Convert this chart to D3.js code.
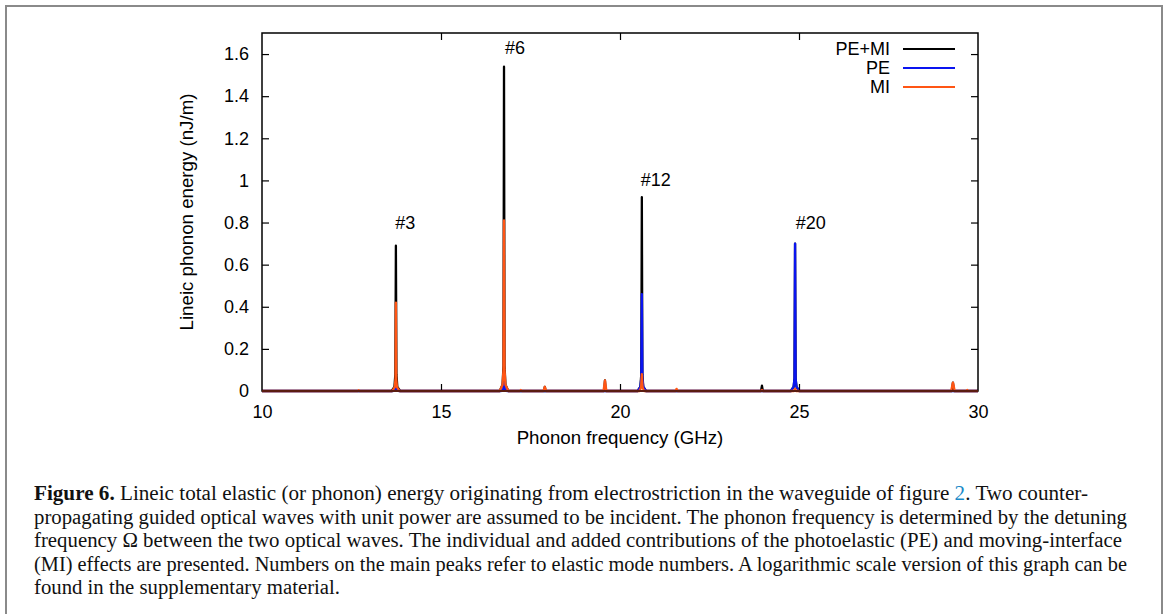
<!DOCTYPE html>
<html><head><meta charset="utf-8">
<script src="https://cdn.jsdelivr.net/npm/d3@7"></script>
<style>
html,body{margin:0;padding:0;background:#fff;}
svg{display:block;}
</style></head>
<body>
<svg id="chart" width="1168" height="614"></svg>
<script>
// ---- data ----
const xTicks = [10, 15, 20, 25, 30];
const yTicks = [0, 0.2, 0.4, 0.6, 0.8, 1, 1.2, 1.4, 1.6];
const yTickLabels = ["0", "0.2", "0.4", "0.6", "0.8", "1", "1.2", "1.4", "1.6"];
const seriesNames = ["PE+MI", "PE", "MI"];
const seriesColors = ["#000000", "#0a14f0", "#ff5514"];

// [frequency (GHz), energy (nJ/m)]
const totalPEMI = [
  [10,0],[13.62,0],[13.70,0.02],[13.725,0.08],[13.74,0.69],[13.755,0.08],[13.78,0.02],[13.86,0],
  [16.64,0],[16.72,0.03],[16.745,0.12],[16.76,1.54],[16.775,0.12],[16.80,0.03],[16.88,0],
  [17.88,0],[17.90,0.02],[17.92,0],
  [19.56,0],[19.58,0.05],[19.60,0],
  [20.49,0],[20.57,0.02],[20.595,0.08],[20.61,0.92],[20.625,0.08],[20.65,0.02],[20.73,0],
  [23.94,0],[23.965,0.025],[23.99,0],
  [24.77,0],[24.85,0.02],[24.875,0.06],[24.89,0.70],[24.905,0.06],[24.93,0.02],[25.01,0],
  [29.27,0],[29.30,0.04],[29.33,0],
  [30,0]
];
const partPE = [
  [10,0],[13.66,0],[13.72,0.01],[13.74,0.03],[13.76,0.01],[13.82,0],
  [16.68,0],[16.74,0.01],[16.76,0.04],[16.78,0.01],[16.84,0],
  [20.49,0],[20.57,0.02],[20.595,0.06],[20.61,0.46],[20.625,0.06],[20.65,0.02],[20.73,0],
  [24.77,0],[24.85,0.02],[24.875,0.06],[24.89,0.70],[24.905,0.06],[24.93,0.02],[25.01,0],
  [30,0]
];
const partMI = [
  [10,0],[12.68,0],[12.70,0.004],[12.72,0],
  [13.64,0],[13.71,0.02],[13.73,0.06],[13.74,0.42],[13.75,0.06],[13.77,0.02],[13.84,0],
  [16.64,0],[16.72,0.03],[16.745,0.10],[16.76,0.81],[16.775,0.10],[16.80,0.03],[16.88,0],
  [17.20,0],[17.23,0.005],[17.26,0],
  [17.86,0],[17.90,0.02],[17.94,0],
  [19.54,0],[19.58,0.05],[19.62,0],
  [20.55,0],[20.59,0.02],[20.61,0.08],[20.63,0.02],[20.67,0],
  [21.55,0],[21.58,0.01],[21.61,0],
  [23.94,0],[23.965,0.005],[23.99,0],
  [24.86,0],[24.89,0.01],[24.92,0],
  [29.25,0],[29.30,0.04],[29.35,0],
  [29.68,0],[29.70,0.005],[29.72,0],
  [30,0]
];
const peakLabels = ["#3", "#6", "#12", "#20"];
const peakLabelFreq = [14.0, 17.07, 21.0, 25.33];
const peakLabelValue = [0.80, 1.63, 1.00, 0.80];

const captionLines = [
  [{t:"Figure 6.", b:true},{t:" Lineic total elastic (or phonon) energy originating from electrostriction in the waveguide of figure "},{t:"2", c:"#1a8ac8"},{t:". Two counter-"}],
  [{t:"propagating guided optical waves with unit power are assumed to be incident. The phonon frequency is determined by the detuning"}],
  [{t:"frequency \u03A9 between the two optical waves. The individual and added contributions of the photoelastic (PE) and moving-interface"}],
  [{t:"(MI) effects are presented. Numbers on the main peaks refer to elastic mode numbers. A logarithmic scale version of this graph can be"}],
  [{t:"found in the supplementary material."}]
];
const captionWidths = [1054, 1093, 1088, 1093, 306];

// ---- drawing ----
const svg = d3.select("#chart");
const L = 262, R = 978, T = 33, B = 391;
const x = d3.scaleLinear().domain([10, 30]).range([L, R]);
const y = d3.scaleLinear().domain([0, 1.7]).range([B, T]);

// outer figure frame
svg.append("rect").attr("x", 6).attr("y", 6).attr("width", 1156).attr("height", 640)
  .attr("fill", "none").attr("stroke", "#8a8a8a").attr("stroke-width", 2);

const font = "'Liberation Sans', Arial, Helvetica, sans-serif";
const fs = 18;

// series
const line = d3.line().x(d => x(d[0])).y(d => y(d[1]));
const allSeries = [totalPEMI, partPE, partMI];
allSeries.forEach((s, i) => {
  svg.append("path").datum(s).attr("d", line)
    .attr("fill", "none").attr("stroke", seriesColors[i]).attr("stroke-width", 2.3)
    .attr("stroke-linejoin", "round");
});

// axes (ticks inward, mirrored)
const tickLen = 7;
const axB = svg.append("g").attr("transform", `translate(0,${B})`)
  .call(d3.axisBottom(x).tickValues(xTicks).tickSizeInner(-tickLen).tickSizeOuter(0).tickPadding(14));
const axT = svg.append("g").attr("transform", `translate(0,${T})`)
  .call(d3.axisTop(x).tickValues(xTicks).tickSizeInner(-tickLen).tickSizeOuter(0).tickFormat(""));
const axL = svg.append("g").attr("transform", `translate(${L},0)`)
  .call(d3.axisLeft(y).tickValues(yTicks).tickSizeInner(-tickLen).tickSizeOuter(0).tickPadding(13)
    .tickFormat((d, i) => yTickLabels[i]));
const axR = svg.append("g").attr("transform", `translate(${R},0)`)
  .call(d3.axisRight(y).tickValues(yTicks).tickSizeInner(-tickLen).tickSizeOuter(0).tickFormat(""));
[axB, axT, axL, axR].forEach(g => {
  g.select(".domain").remove();
  g.selectAll(".tick line").attr("stroke", "#000").attr("stroke-width", 1.2);
  g.selectAll("text").attr("font-family", font).attr("font-size", fs).attr("fill", "#000");
});
// hide ticks at the box edges
axB.selectAll(".tick line").filter(d => d === 10 || d === 30).remove();
axT.selectAll(".tick line").filter(d => d === 10 || d === 30).remove();
axL.selectAll(".tick line").filter(d => d === 0).remove();
axR.selectAll(".tick line").filter(d => d === 0).remove();

// plot box
svg.append("rect").attr("x", L).attr("y", T).attr("width", R - L).attr("height", B - T)
  .attr("fill", "none").attr("stroke", "#000").attr("stroke-width", 1.5);
// dark baseline as in the original
svg.append("line").attr("x1", L).attr("x2", R).attr("y1", B).attr("y2", B)
  .attr("stroke", "#5a1c10").attr("stroke-width", 2);

// axis titles
svg.append("text").attr("x", 620).attr("y", 444).attr("text-anchor", "middle")
  .attr("font-family", font).attr("font-size", 18.7).text("Phonon frequency (GHz)");
svg.append("text").attr("transform", "translate(193,212) rotate(-90)").attr("text-anchor", "middle")
  .attr("font-family", font).attr("font-size", 18.7).text("Lineic phonon energy (nJ/m)");

// peak labels
peakLabels.forEach((t, i) => {
  svg.append("text").attr("x", x(peakLabelFreq[i])).attr("y", y(peakLabelValue[i]))
    .attr("text-anchor", "middle").attr("dominant-baseline", "central")
    .attr("font-family", font).attr("font-size", fs).text(t);
});

// legend
seriesNames.forEach((n, i) => {
  const ly = 49 + i * 19;
  svg.append("text").attr("x", 890).attr("y", ly).attr("text-anchor", "end")
    .attr("dominant-baseline", "central").attr("font-family", font).attr("font-size", fs).text(n);
  svg.append("line").attr("x1", 903).attr("x2", 955).attr("y1", ly).attr("y2", ly)
    .attr("stroke", seriesColors[i]).attr("stroke-width", 2);
});

// caption
const serif = "'Liberation Serif', 'Times New Roman', serif";
captionLines.forEach((parts, i) => {
  const tx = svg.append("text").attr("x", 34).attr("y", 500 + i * 23.6)
    .attr("font-family", serif).attr("font-size", 20.5).attr("fill", "#111")
    .attr("textLength", captionWidths[i]).attr("lengthAdjust", "spacingAndGlyphs");
  parts.forEach(p => {
    const ts = tx.append("tspan").text(p.t);
    if (p.b) ts.attr("font-weight", "bold");
    if (p.c) ts.attr("fill", p.c);
  });
});
</script>
</body></html>
